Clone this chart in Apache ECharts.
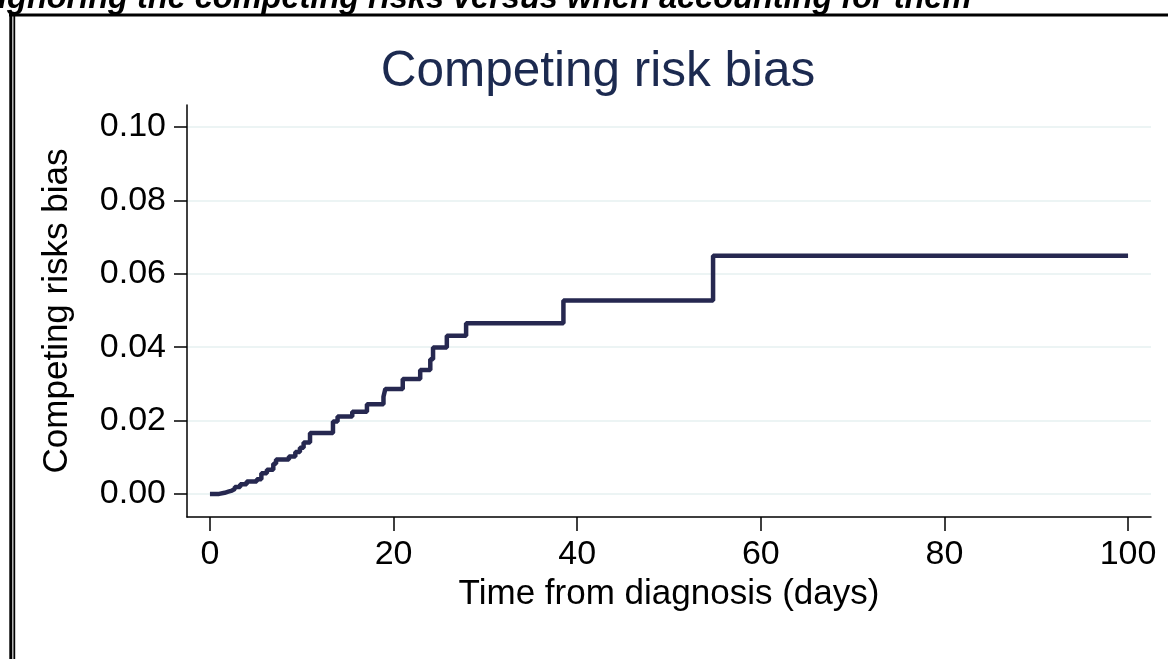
<!DOCTYPE html>
<html>
<head>
<meta charset="utf-8">
<script src="https://cdn.jsdelivr.net/npm/echarts@6/dist/echarts.min.js"></script>
<style>
html,body{margin:0;padding:0;background:#fff;}
#chart{width:1168px;height:659px;}
</style>
</head>
<body>
<div id="chart"></div>
<script>
// Step function: time (days) at which the bias jumps, and the new value
var times = [0, 1.0, 1.6, 2.0, 2.4, 2.7, 3.3, 4.0, 5.1, 5.6, 6.2, 6.9, 7.2, 8.6, 9.3, 9.8, 10.2, 10.9, 13.4, 13.9, 15.5, 17.1, 18.9, 19.1, 21.0, 22.9, 24.0, 24.3, 25.8, 27.9, 38.5, 54.8, 100];
var bias  = [0, 0.0003, 0.0006, 0.0009, 0.0013, 0.0019, 0.0026, 0.0034, 0.0040, 0.0056, 0.0066, 0.0082, 0.0094, 0.0102, 0.0114, 0.0126, 0.0140, 0.0166, 0.0197, 0.0211, 0.0224, 0.0244, 0.0265, 0.0286, 0.0313, 0.0338, 0.0367, 0.0399, 0.0431, 0.0465, 0.0527, 0.0649, 0.0649];
var xTicks = [0, 20, 40, 60, 80, 100];
var yTicks = [0, 0.02, 0.04, 0.06, 0.08, 0.10];

var chartTitle = 'Competing risk bias';
var xName = 'Time from diagnosis (days)';
var yName = 'Competing risks bias';
var topCaption = 'ignoring the competing risks versus when accounting for them';

var data = times.map(function (t, i) { return [t, bias[i]]; });
var FONT = 'Liberation Sans, Arial, sans-serif';

var chart = echarts.init(document.getElementById('chart'), null, {renderer: 'canvas'});
chart.setOption({
  animation: false,
  backgroundColor: '#ffffff',
  title: {
    text: chartTitle,
    left: 593,
    textAlign: 'center',
    top: 42,
    textStyle: {fontFamily: FONT, fontSize: 49.5, fontWeight: 'normal', color: '#1c2a50'}
  },
  graphic: [
    {type: 'text', left: -2, top: -17, silent: true,
     style: {text: topCaption, font: 'italic bold 32.5px ' + FONT, fill: '#000'}},
    {type: 'rect', shape: {x: 9, y: 13.5, width: 1160, height: 3}, style: {fill: '#000'}},
    {type: 'rect', shape: {x: 9.3, y: 13.5, width: 3, height: 660}, style: {fill: '#000'}},
    {type: 'rect', shape: {x: 13.4, y: 16, width: 1.8, height: 660}, style: {fill: '#000'}}
  ],
  grid: {left: 187, right: 17, top: 105, bottom: 142, containLabel: false},
  xAxis: {
    type: 'value',
    min: -2.5, max: 102.5,
    name: xName,
    nameLocation: 'middle',
    nameGap: 59,
    nameTextStyle: {fontFamily: FONT, fontSize: 35, color: '#000'},
    axisLine: {show: true, onZero: false, lineStyle: {color: '#000', width: 1.5}},
    axisTick: {show: true, length: 14, lineStyle: {color: '#000', width: 1.5}, customValues: xTicks},
    axisLabel: {fontFamily: FONT, fontSize: 34, color: '#000', margin: 21, customValues: xTicks,
                formatter: function (v) { return String(v); }},
    splitLine: {show: false}
  },
  yAxis: {
    type: 'value',
    min: -0.0063, max: 0.106,
    name: yName,
    nameLocation: 'middle',
    nameGap: 112,
    nameRotate: 90,
    nameTextStyle: {fontFamily: FONT, fontSize: 35, color: '#000'},
    axisLine: {show: true, onZero: false, lineStyle: {color: '#000', width: 1.5}},
    axisTick: {show: true, length: 13, lineStyle: {color: '#000', width: 1.5}, customValues: yTicks},
    axisLabel: {fontFamily: FONT, fontSize: 34, color: '#000', margin: 21, customValues: yTicks,
                formatter: function (v) { return v.toFixed(2); }},
    splitLine: {show: true, lineStyle: {color: '#ecf4f4', width: 2}}
  },
  series: [{
    type: 'line',
    step: 'end',
    data: data,
    symbol: 'none',
    lineStyle: {color: '#262850', width: 4.5},
    z: 3
  }]
});
</script>
</body>
</html>
